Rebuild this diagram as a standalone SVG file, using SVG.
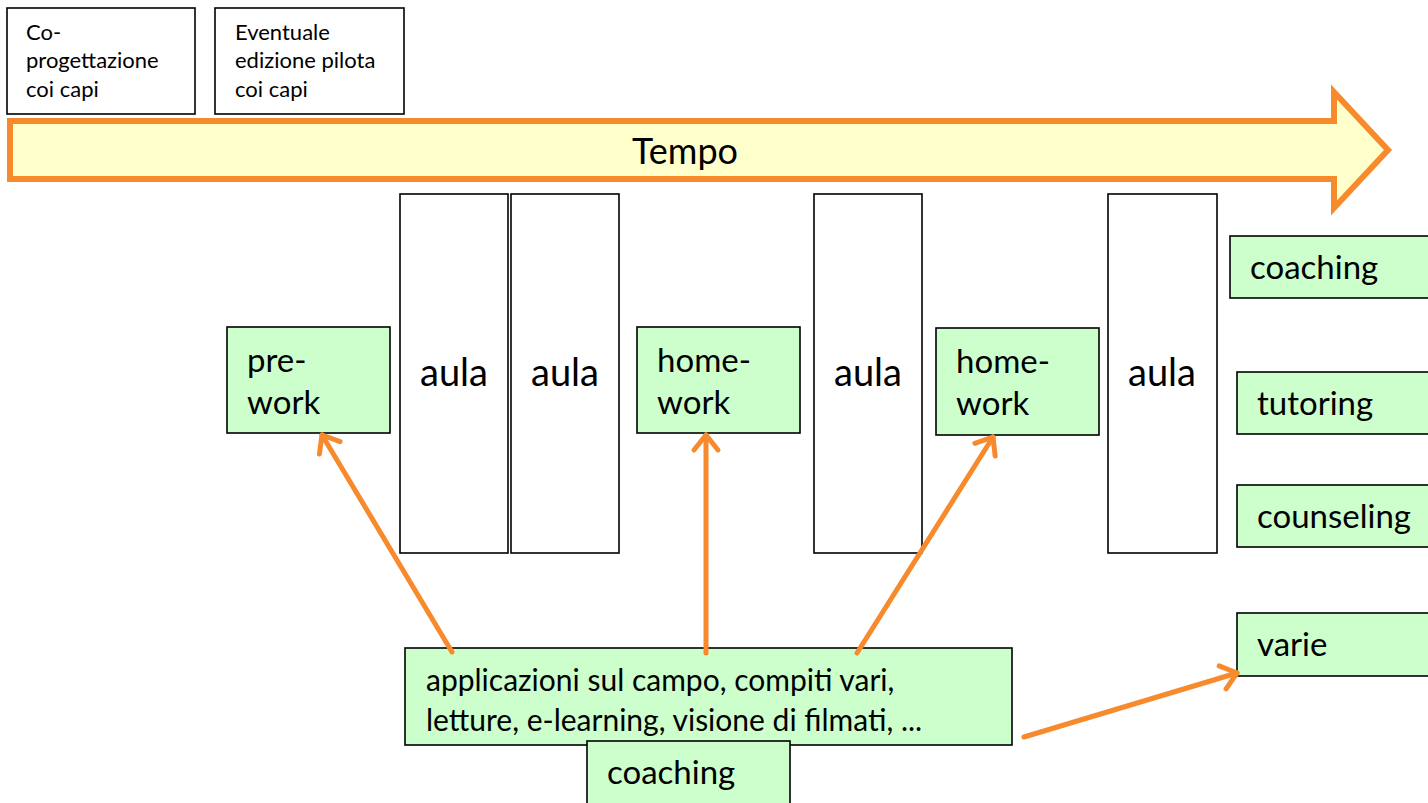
<svg xmlns="http://www.w3.org/2000/svg" width="1428" height="803" viewBox="0 0 1428 803">
<style>
text{font-family:Lato,"Open Sans","Liberation Sans",sans-serif;fill:#000}
.w{fill:#fff;stroke:#000;stroke-width:1.6}
.g{fill:#CCFFCC;stroke:#000;stroke-width:1.6}
.s{font-size:22px}
.a{font-size:38px}
.m{font-size:33px}
.l{font-size:30px}
.c{stroke:#F88A2E;stroke-width:5;fill:none;stroke-linecap:round}
</style>
<defs>
<marker id="ah" markerUnits="userSpaceOnUse" markerWidth="40" markerHeight="40" refX="20" refY="20" orient="auto" viewBox="0 0 40 40">
<path d="M5,8 L20,20 L5,32" fill="none" stroke="#F88A2E" stroke-width="5" stroke-linecap="round" stroke-linejoin="round"/>
</marker>
</defs>
<g id="copro"><rect class="w" x="7" y="8" width="188" height="106"/>
<text class="s" x="26" y="40">Co-</text><text class="s" x="26" y="68">progettazione</text><text class="s" x="26" y="97">coi capi</text></g>
<g id="pilota"><rect class="w" x="215" y="8" width="189" height="106"/>
<text class="s" x="235" y="40">Eventuale</text><text class="s" x="235" y="68">edizione pilota</text><text class="s" x="235" y="97">coi capi</text></g>
<g id="tempo"><polygon points="10,121 1334,121 1334,92 1388,150 1334,208 1334,179 10,179" fill="#FFFFCC" stroke="#F88A2E" stroke-width="6"/>
<text x="685" y="164" font-size="36" text-anchor="middle">Tempo</text></g>
<g id="aula1"><rect class="w" x="400" y="194" width="108" height="359"/><text class="a" x="454" y="386" text-anchor="middle">aula</text></g>
<g id="aula2"><rect class="w" x="511" y="194" width="108" height="359"/><text class="a" x="565" y="386" text-anchor="middle">aula</text></g>
<g id="aula3"><rect class="w" x="814" y="194" width="108" height="359"/><text class="a" x="868" y="386" text-anchor="middle">aula</text></g>
<g id="aula4"><rect class="w" x="1108" y="194" width="109" height="359"/><text class="a" x="1162" y="386" text-anchor="middle">aula</text></g>
<g id="prework"><rect class="g" x="227" y="327" width="163" height="106"/><text class="m" x="247" y="372">pre-</text><text class="m" x="247" y="414">work</text></g>
<g id="homework1"><rect class="g" x="637" y="327" width="163" height="106"/><text class="m" x="657" y="372">home-</text><text class="m" x="657" y="414">work</text></g>
<g id="homework2"><rect class="g" x="936" y="328" width="163" height="107"/><text class="m" x="956" y="373">home-</text><text class="m" x="956" y="415">work</text></g>
<g id="coaching1"><rect class="g" x="1230" y="236" width="202" height="62"/><text class="m" x="1250" y="279">coaching</text></g>
<g id="tutoring"><rect class="g" x="1237" y="372" width="195" height="62"/><text class="m" x="1257" y="415">tutoring</text></g>
<g id="counseling"><rect class="g" x="1237" y="485" width="195" height="62"/><text class="m" x="1257" y="528">counseling</text></g>
<g id="varie"><rect class="g" x="1237" y="613" width="195" height="63"/><text class="m" x="1257" y="656">varie</text></g>
<g id="applicazioni"><rect class="g" x="405" y="648" width="607" height="97"/>
<text class="l" x="426" y="691">applicazioni sul campo, compiti vari,</text>
<text class="l" x="426" y="731">letture, e-learning, visione di filmati, ...</text></g>
<g id="coaching2"><rect class="g" x="587" y="741" width="203" height="64"/><text class="m" x="607" y="784">coaching</text></g>
<g id="connectors">
<line class="c" x1="452" y1="652" x2="322" y2="435" marker-end="url(#ah)"/>
<line class="c" x1="706" y1="653" x2="706" y2="435" marker-end="url(#ah)"/>
<line class="c" x1="857" y1="653" x2="993" y2="437" marker-end="url(#ah)"/>
<line class="c" x1="1024" y1="737" x2="1237" y2="673" marker-end="url(#ah)"/>
</g>
</svg>
